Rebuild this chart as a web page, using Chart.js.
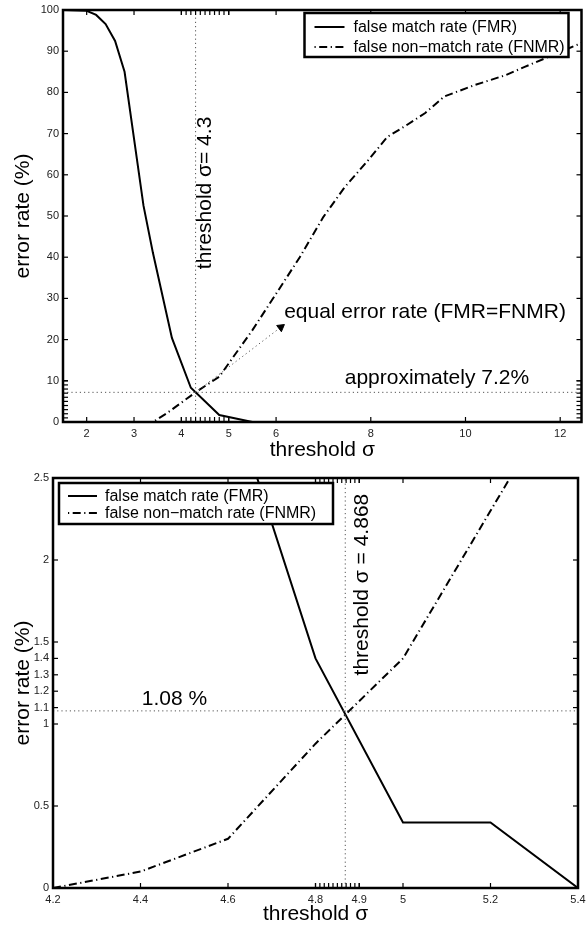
<!DOCTYPE html>
<html>
<head>
<meta charset="utf-8">
<script src="https://cdn.jsdelivr.net/npm/chart.js@4.4.0/dist/chart.umd.min.js"></script>
<style>
  html, body { margin: 0; padding: 0; background: #fff; }
  canvas { position: absolute; left: 0; }
  #topChart { top: 0; }
  #bottomChart { top: 465px; }
</style>
</head>
<body>
<canvas id="topChart" width="587" height="465"></canvas>
<canvas id="bottomChart" width="587" height="464"></canvas>
<script>
const seriesNames = ["false match rate (FMR)", "false non\u2212match rate (FNMR)"];

// top panel: full threshold range
const topFmrX = [1.5, 2.0, 2.2, 2.4, 2.6, 2.8, 3.2, 3.4, 3.8, 4.2, 4.8, 5.3, 5.5, 12.45];
const topFmrY = [100, 99.8, 98.8, 96.6, 92.5, 85.0, 52.5, 41.0, 20.4, 8.3, 1.7, 0.5, 0, 0];
const topFnmrX = [1.5, 3.4, 3.7, 4.3, 4.8, 5.5, 6.05, 6.5, 7.0, 7.45, 7.95, 8.35, 8.75, 9.15, 9.55, 10.2, 10.85, 11.25, 11.75, 12.45];
const topFnmrY = [0, 0, 2.2, 7.2, 11, 22.3, 32, 40, 49.8, 57, 63.6, 69.2, 72, 75, 79, 81.8, 84.2, 86.2, 88.6, 92];
const topXTicks = [2, 3, 4, 5, 6, 8, 10, 12];
const topXMinor = [4.0, 4.1, 4.2, 4.3, 4.4, 4.5, 4.6, 4.7, 4.8, 4.9, 5.0];
const topYTicks = [0, 10, 20, 30, 40, 50, 60, 70, 80, 90, 100];
const topYMinor = [0, 1, 2, 3, 4, 5, 6, 7, 8, 9, 10];
const topThreshold = 4.3;
const topRate = 7.2;
const topArrowEnd = [6.1, 23];

// bottom panel: zoom around the crossing
const botFmrX = [4.6, 4.8, 5.0, 5.2, 5.4];
const botFmrY = [3.05, 1.4, 0.4, 0.4, 0];
const botFnmrX = [4.2, 4.4, 4.6, 4.8, 5.0, 5.2, 5.4];
const botFnmrY = [0, 0.1, 0.3, 0.88, 1.4, 2.3, 3.2];
const botXTicks = [4.2, 4.4, 4.6, 4.8, 4.9, 5, 5.2, 5.4];
const botXMinor = [4.80, 4.81, 4.82, 4.83, 4.84, 4.85, 4.86, 4.87, 4.88, 4.89, 4.90];
const botYTicks = [0, 0.5, 1, 1.1, 1.2, 1.3, 1.4, 1.5, 2, 2.5];
const botThreshold = 4.868;
const botRate = 1.08;

const FONT = "'Liberation Sans', Arial, Helvetica, sans-serif";
const DASHDOT = [8, 3.5, 1.2, 3.5];
const DOTTED = [1.2, 3];

function pts(xs, ys) {
  return xs.map((x, i) => ({ x: x, y: ys[i] }));
}

const axesFrame = {
  id: "axesFrame",
  afterDraw(chart, args, o) {
    const ctx = chart.ctx;
    const a = chart.chartArea;
    const x = chart.scales.x;
    const y = chart.scales.y;
    ctx.save();
    ctx.strokeStyle = "#000";
    ctx.lineWidth = 1.2;
    function seg(x0, y0, x1, y1) {
      ctx.beginPath();
      ctx.moveTo(x0, y0);
      ctx.lineTo(x1, y1);
      ctx.stroke();
    }
    const xs = x.ticks.map(t => t.value).concat(o.xMinor || []);
    xs.forEach(v => {
      const p = x.getPixelForValue(v);
      seg(p, a.bottom, p, a.bottom - 5);
      seg(p, a.top, p, a.top + 5);
    });
    const ys = y.ticks.map(t => t.value).concat(o.yMinor || []);
    ys.forEach(v => {
      const p = y.getPixelForValue(v);
      seg(a.left, p, a.left + 5, p);
      seg(a.right, p, a.right - 5, p);
    });
    ctx.lineWidth = 2.5;
    ctx.strokeRect(a.left, a.top, a.right - a.left, a.bottom - a.top);

    // annotations
    ctx.fillStyle = "#000";
    ctx.font = "21px " + FONT;
    ctx.textBaseline = "middle";
    o.notes.forEach(n => {
      const px = x.getPixelForValue(n.x);
      const py = y.getPixelForValue(n.y);
      ctx.save();
      ctx.translate(px, py);
      if (n.rotate) {
        ctx.rotate(-Math.PI / 2);
        ctx.textAlign = "center";
      } else {
        ctx.textAlign = "left";
      }
      ctx.fillText(n.text, 0, 0);
      ctx.restore();
    });

    // legend box
    const L = o.legend;
    const bx = L.fromRight ? a.right - L.dx : a.left + L.dx;
    const by = a.top + L.dy;
    ctx.fillStyle = "#fff";
    ctx.fillRect(bx, by, L.w, L.h);
    ctx.lineWidth = 2.5;
    ctx.strokeRect(bx, by, L.w, L.h);
    ctx.font = "16px " + FONT;
    ctx.textAlign = "left";
    seriesNames.forEach((name, i) => {
      const ry = by + L.rows[i];
      ctx.lineWidth = 2;
      ctx.setLineDash(i === 0 ? [] : [1.2, 3.5, 8, 3.5]);
      seg(bx + L.sample[0], ry, bx + L.sample[1], ry);
      ctx.setLineDash([]);
      ctx.fillStyle = "#000";
      ctx.fillText(name, bx + L.text, ry + 1);
    });
    ctx.restore();
  }
};

function baseOptions(cfg) {
  return {
    responsive: false,
    animation: false,
    layout: { padding: cfg.padding },
    plugins: {
      legend: { display: false },
      tooltip: { enabled: false },
      axesFrame: cfg.frame
    },
    scales: {
      x: {
        type: "linear",
        min: cfg.xMin,
        max: cfg.xMax,
        grid: { display: false, drawTicks: false },
        border: { display: false },
        afterBuildTicks: s => { s.ticks = cfg.xTicks.map(v => ({ value: v })); },
        afterFit: s => {
          s.height = cfg.xHeight;
          s.paddingLeft = 0;
          s.paddingRight = 0;
        },
        ticks: {
          autoSkip: false,
          maxRotation: 0,
          padding: 5,
          color: "#222",
          font: { size: 11, family: FONT },
          callback: v => String(v)
        },
        title: {
          display: true,
          text: "threshold \u03c3",
          color: "#000",
          font: { size: 21, family: FONT },
          padding: { top: 0, bottom: 2 }
        }
      },
      y: {
        type: "linear",
        min: cfg.yMin,
        max: cfg.yMax,
        grid: { display: false, drawTicks: false },
        border: { display: false },
        afterBuildTicks: s => { s.ticks = cfg.yTicks.map(v => ({ value: v })); },
        afterFit: s => {
          s.width = cfg.yWidth;
          s.paddingTop = 0;
          s.paddingBottom = 0;
        },
        ticks: {
          autoSkip: false,
          padding: 4,
          color: "#222",
          font: { size: 11, family: FONT },
          callback: v => String(v)
        },
        title: {
          display: true,
          text: "error rate (%)",
          color: "#000",
          font: { size: 21, family: FONT },
          padding: { top: 11, bottom: 0 }
        }
      }
    }
  };
}

function lineSet(data, dash, width) {
  return {
    data: data,
    borderColor: "#000",
    backgroundColor: "#000",
    borderWidth: width,
    borderDash: dash,
    pointRadius: 0,
    tension: 0,
    fill: false,
    clip: 0
  };
}

function guideSet(data) {
  return {
    data: data,
    borderColor: "#555",
    borderWidth: 1,
    borderDash: DOTTED,
    pointRadius: 0,
    fill: false,
    clip: 0
  };
}

const topArrow = guideSet([{ x: topThreshold, y: topRate }, { x: topArrowEnd[0], y: topArrowEnd[1] }]);
topArrow.pointRadius = [0, 4.5];
topArrow.pointStyle = "triangle";
topArrow.rotation = 53;
topArrow.pointBackgroundColor = "#000";
topArrow.pointBorderColor = "#000";
topArrow.pointBorderWidth = 1;

new Chart(document.getElementById("topChart").getContext("2d"), {
  type: "line",
  data: {
    datasets: [
      guideSet([{ x: topThreshold, y: 0 }, { x: topThreshold, y: 100 }]),
      guideSet([{ x: 1.5, y: topRate }, { x: 12.45, y: topRate }]),
      topArrow,
      lineSet(pts(topFnmrX, topFnmrY), DASHDOT, 2),
      lineSet(pts(topFmrX, topFmrY), [], 2)
    ]
  },
  options: baseOptions({
    padding: { top: 10, right: 2, bottom: 0, left: 0 },
    xMin: 1.5, xMax: 12.45, yMin: 0, yMax: 100,
    xTicks: topXTicks, yTicks: topYTicks,
    xHeight: 43, yWidth: 63,
    frame: {
      xMinor: topXMinor,
      yMinor: topYMinor,
      notes: [
        { text: "threshold \u03c3= 4.3", x: 4.51, y: 55.6, rotate: true },
        { text: "equal error rate (FMR=FNMR)", x: 6.17, y: 26.7 },
        { text: "approximately 7.2%", x: 7.45, y: 10.7 }
      ],
      legend: { fromRight: true, dx: 277, dy: 3, w: 264, h: 44, rows: [14, 34], sample: [10, 40], text: 49 }
    }
  }),
  plugins: [axesFrame]
});

new Chart(document.getElementById("bottomChart").getContext("2d"), {
  type: "line",
  data: {
    datasets: [
      guideSet([{ x: botThreshold, y: 0 }, { x: botThreshold, y: 2.5 }]),
      guideSet([{ x: 4.2, y: botRate }, { x: 5.4, y: botRate }]),
      lineSet(pts(botFnmrX, botFnmrY), DASHDOT, 2),
      lineSet(pts(botFmrX, botFmrY), [], 2)
    ]
  },
  options: baseOptions({
    padding: { top: 13, right: 9, bottom: 0, left: 0 },
    xMin: 4.2, xMax: 5.4, yMin: 0, yMax: 2.5,
    xTicks: botXTicks, yTicks: botYTicks,
    xHeight: 41, yWidth: 53,
    frame: {
      xMinor: botXMinor,
      yMinor: [],
      notes: [
        { text: "threshold \u03c3 = 4.868", x: 4.906, y: 1.85, rotate: true },
        { text: "1.08 %", x: 4.403, y: 1.152 }
      ],
      legend: { fromRight: false, dx: 6, dy: 5, w: 274, h: 41, rows: [13, 30], sample: [9, 38], text: 46 }
    }
  }),
  plugins: [axesFrame]
});
</script>
</body>
</html>
